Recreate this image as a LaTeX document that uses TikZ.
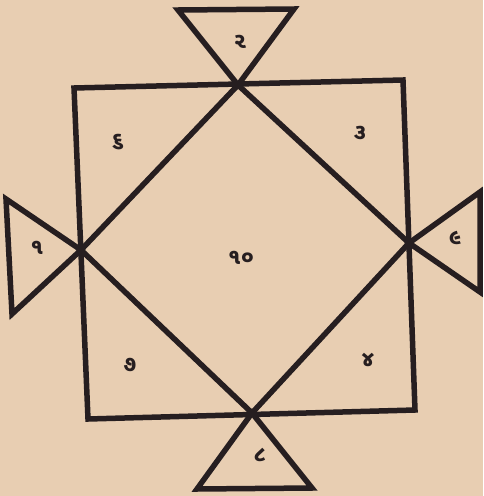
\documentclass[tikz,border=0pt]{standalone}
\usepackage{fontspec}
\newfontfamily\gujfont[Script=Gujarati]{Noto Sans Gujarati UI}
\definecolor{paper}{RGB}{232,206,178}
\definecolor{ink}{RGB}{38,30,32}
\tikzset{
  ln/.style={draw=ink, line width=5.5pt, line join=miter, line cap=round},
  lbl/.style={text=ink, font=\gujfont\bfseries\fontsize{22}{22}\selectfont, inner sep=0pt}
}
\begin{document}
\begin{tikzpicture}[x=1pt,y=-1pt]
\fill[paper] (0,0) rectangle (483,496);
\useasboundingbox (0,0) rectangle (483,496);
% square corners
\coordinate (tl) at (74,88);
\coordinate (tr) at (403,80);
\coordinate (br) at (415,410);
\coordinate (bl) at (88,419);
% diamond vertices (midpoints of sides)
\coordinate (dt) at (238,85);
\coordinate (dr) at (409,243);
\coordinate (db) at (252,413);
\coordinate (dl) at (81,250);
% triangle outer corners
\coordinate (t1) at (178,10);
\coordinate (t2) at (294,9);
\coordinate (l1) at (6,199);
\coordinate (l2) at (12,314);
\coordinate (r1) at (480,192);
\coordinate (r2) at (480,292);
\coordinate (b1) at (197,489);
\coordinate (b2) at (312,488);
% square
\draw[ln] (tl) -- (tr) -- (br) -- (bl) -- cycle;
% diamond
\draw[ln] (dt) -- (dr) -- (db) -- (dl) -- cycle;
% triangles
\draw[ln] (dt) -- (t1) -- (t2) -- cycle;
\draw[ln] (dl) -- (l1) -- (l2) -- cycle;
\draw[ln] (dr) -- (r1) -- (r2) -- cycle;
\draw[ln] (db) -- (b1) -- (b2) -- cycle;
% labels
\node[lbl] (n2) at (240,42) {૨};
\node[lbl] (n3) at (360,133) {૩};
\node[lbl] (n6) at (118,142) {૬};
\node[lbl] (n1) at (37,248) {૧};
\node[lbl] (n9) at (455,238) {૯};
\node[lbl] (n10) at (241,258) {૧૦};
\node[lbl] (n7) at (130,365) {૭};
\node[lbl] (n4) at (368,360) {૪};
\node[lbl] (n8) at (260,455) {૮};
\end{tikzpicture}
\end{document}
